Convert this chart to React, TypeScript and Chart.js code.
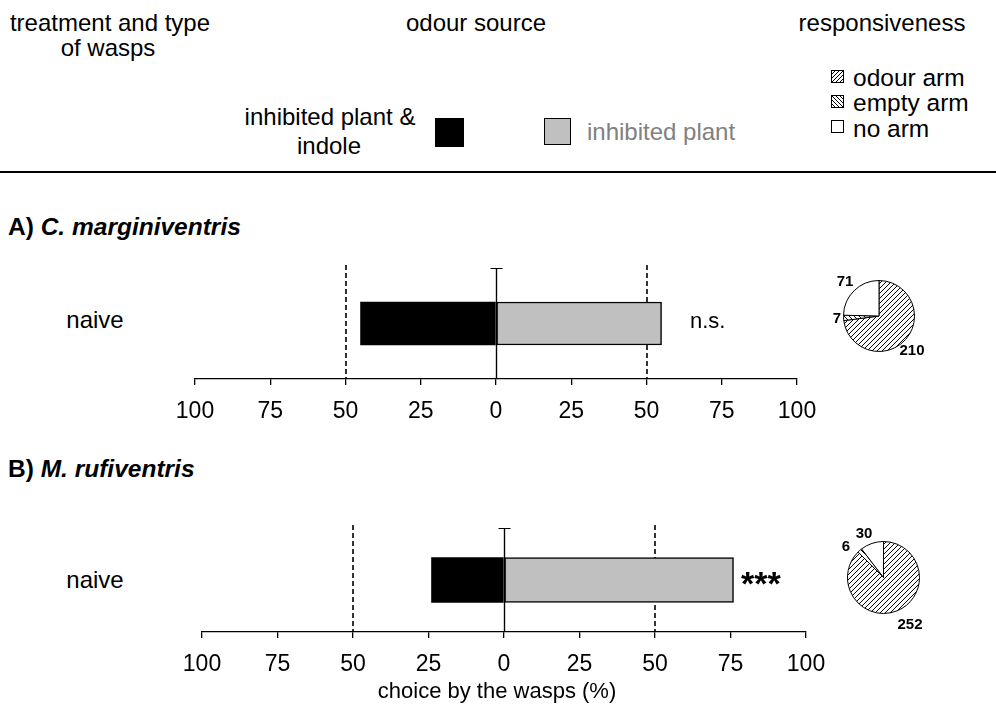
import React, { useEffect, useRef } from 'react';
import { Chart, registerables } from 'chart.js';

Chart.register(...registerables);

// ---------- data ----------
const categories = ['naive'];
const sourceLabels = ['inhibited plant & indole', 'inhibited plant'];
const indoleA = [-45];
const plantA = [55];
const indoleB = [-24];
const plantB = [76];
const sigA = 'n.s.';
const sigB = '***';
const armLabels = ['odour arm', 'empty arm', 'no arm'];
const pieA = [210, 7, 71];
const pieB = [252, 6, 30];
const xMin = -100;
const xMax = 100;
const xStep = 25;
const refLines = [-50, 50];

const FONT = '"Liberation Sans", Arial, Helvetica, sans-serif';

function makeHatch(dir: 'up' | 'down'): CanvasPattern | string {
  const s = 5;
  const c = document.createElement('canvas');
  c.width = s;
  c.height = s;
  const g = c.getContext('2d');
  if (!g) return '#fff';
  g.fillStyle = '#fff';
  g.fillRect(0, 0, s, s);
  g.strokeStyle = '#000';
  g.lineWidth = 1;
  g.beginPath();
  if (dir === 'up') {
    g.moveTo(-1, s + 1); g.lineTo(s + 1, -1);
    g.moveTo(-1, 1); g.lineTo(1, -1);
    g.moveTo(s - 1, s + 1); g.lineTo(s + 1, s - 1);
  } else {
    g.moveTo(-1, -1); g.lineTo(s + 1, s + 1);
    g.moveTo(s - 1, -1); g.lineTo(s + 1, 1);
    g.moveTo(-1, s - 1); g.lineTo(1, s + 1);
  }
  g.stroke();
  const p = g.createPattern(c, 'repeat');
  return p || '#fff';
}

type BarProps = {
  left: number; top: number; width: number; height: number;
  padL: number; padR: number; padT: number; padB: number;
  indole: number[]; plant: number[]; barThickness: number;
};

const AXIS_H = 50;

const refPlugin = {
  id: 'refLines',
  beforeDatasetsDraw(chart: any) {
    const { ctx, chartArea, scales } = chart;
    const x = scales.x;
    ctx.save();
    ctx.strokeStyle = '#000';
    ctx.lineWidth = 1.6;
    ctx.setLineDash([5, 3]);
    refLines.forEach((v) => {
      const px = Math.round(x.getPixelForValue(v));
      ctx.beginPath();
      ctx.moveTo(px, chartArea.top - 3);
      ctx.lineTo(px, chartArea.bottom);
      ctx.stroke();
    });
    ctx.setLineDash([]);
    const zx = Math.round(x.getPixelForValue(0)) + 0.5;
    ctx.lineWidth = 1.2;
    ctx.beginPath();
    ctx.moveTo(zx, chartArea.top);
    ctx.lineTo(zx, chartArea.bottom);
    ctx.moveTo(zx - 6, chartArea.top + 0.5);
    ctx.lineTo(zx + 6, chartArea.top + 0.5);
    ctx.stroke();
    ctx.restore();
  },
  afterDatasetsDraw(chart: any) {
    const { ctx, chartArea, scales } = chart;
    const zx = Math.round(scales.x.getPixelForValue(0)) + 0.5;
    ctx.save();
    ctx.strokeStyle = '#000';
    ctx.lineWidth = 1.2;
    ctx.beginPath();
    ctx.moveTo(zx, chartArea.top);
    ctx.lineTo(zx, chartArea.bottom);
    ctx.stroke();
    ctx.restore();
  },
};

function BarPanel(p: BarProps) {
  const ref = useRef<HTMLCanvasElement>(null);
  useEffect(() => {
    if (!ref.current) return;
    const chart = new Chart(ref.current, {
      type: 'bar',
      data: {
        labels: categories,
        datasets: [
          {
            label: sourceLabels[0],
            data: p.indole,
            backgroundColor: '#000',
            borderWidth: 0,
            barThickness: p.barThickness,
          },
          {
            label: sourceLabels[1],
            data: p.plant,
            backgroundColor: '#c0c0c0',
            borderColor: '#000',
            borderWidth: 1.5,
            borderSkipped: false,
            barThickness: p.barThickness,
          },
        ],
      },
      options: {
        indexAxis: 'y',
        animation: false,
        responsive: false,
        maintainAspectRatio: false,
        events: [],
        layout: { padding: { left: p.padL, right: p.padR, top: p.padT, bottom: p.padB } },
        plugins: { legend: { display: false }, tooltip: { enabled: false }, title: { display: false } },
        scales: {
          x: {
            type: 'linear',
            min: xMin,
            max: xMax,
            stacked: true,
            afterBuildTicks: (axis: any) => {
              const t = [];
              for (let v = xMin; v <= xMax; v += xStep) t.push({ value: v });
              axis.ticks = t;
            },
            afterFit: (axis: any) => {
              axis.height = AXIS_H;
              axis.paddingLeft = 0;
              axis.paddingRight = 0;
            },
            ticks: {
              callback: (v: any) => String(Math.abs(Number(v))),
              color: '#000',
              font: { family: FONT, size: 23 },
              padding: 13,
              maxRotation: 0,
              autoSkip: false,
            },
            grid: {
              drawOnChartArea: false,
              drawTicks: true,
              tickLength: 6,
              color: '#000',
              lineWidth: 1.3,
            },
            border: { display: true, color: '#000', width: 1.3 },
          },
          y: { display: false, stacked: true },
        },
      },
      plugins: [refPlugin],
    } as any);
    return () => chart.destroy();
  }, []);
  return (
    <canvas
      ref={ref}
      width={p.width}
      height={p.height}
      style={{ position: 'absolute', left: p.left, top: p.top, width: p.width, height: p.height }}
    />
  );
}

function PiePanel({ left, top, size, values }: { left: number; top: number; size: number; values: number[] }) {
  const ref = useRef<HTMLCanvasElement>(null);
  useEffect(() => {
    if (!ref.current) return;
    const chart = new Chart(ref.current, {
      type: 'pie',
      data: {
        labels: armLabels,
        datasets: [
          {
            data: values,
            backgroundColor: [makeHatch('up'), makeHatch('down'), '#fff'],
            borderColor: '#000',
            borderWidth: 1,
          },
        ],
      },
      options: {
        animation: false,
        responsive: false,
        maintainAspectRatio: false,
        events: [],
        layout: { padding: 0 },
        plugins: { legend: { display: false }, tooltip: { enabled: false } },
      },
    } as any);
    return () => chart.destroy();
  }, []);
  return (
    <canvas
      ref={ref}
      width={size}
      height={size}
      style={{ position: 'absolute', left, top, width: size, height: size }}
    />
  );
}

function T({ x, y, children, align = 'left', size = 24, bold = false, color = '#000', italic = false }: any) {
  const lh = Math.round(size * 1.2);
  const tx = align === 'center' ? '-50%' : align === 'right' ? '-100%' : '0';
  return (
    <div
      style={{
        position: 'absolute',
        left: x,
        top: y - lh / 2,
        lineHeight: lh + 'px',
        fontSize: size,
        fontFamily: FONT,
        fontWeight: bold ? 'bold' : 'normal',
        fontStyle: italic ? 'italic' : 'normal',
        color,
        whiteSpace: 'nowrap',
        transform: `translateX(${tx})`,
      }}
    >
      {children}
    </div>
  );
}

function LegendBox({ x, y, kind }: { x: number; y: number; kind: number }) {
  const bg =
    kind === 0
      ? 'repeating-linear-gradient(-45deg, #fff 0px, #fff 1.6px, #000 1.6px, #000 2.8px)'
      : kind === 1
      ? 'repeating-linear-gradient(45deg, #fff 0px, #fff 1.6px, #000 1.6px, #000 2.8px)'
      : '#fff';
  return (
    <div
      style={{
        position: 'absolute',
        left: x,
        top: y,
        width: 11,
        height: 11,
        border: '1px solid #000',
        background: bg,
      }}
    />
  );
}

export default function App() {
  return (
    <div style={{ position: 'absolute', left: 0, top: 0, width: 996, height: 724, background: '#fff', overflow: 'hidden' }}>
      {/* header */}
      <T x={110} y={22} align="center">treatment and type</T>
      <T x={108} y={47} align="center">of wasps</T>
      <T x={476} y={22} align="center">odour source</T>
      <T x={882} y={22} align="center">responsiveness</T>

      <T x={330} y={116} align="center">inhibited plant &amp;</T>
      <T x={329} y={145} align="center">indole</T>
      <div style={{ position: 'absolute', left: 435, top: 118, width: 29, height: 29, background: '#000' }} />
      <div style={{ position: 'absolute', left: 544, top: 118, width: 25, height: 25, background: '#c0c0c0', border: '1.5px solid #000' }} />
      <T x={587} y={131} color="#808080">{sourceLabels[1]}</T>

      {armLabels.map((l, i) => (
        <React.Fragment key={l}>
          <LegendBox x={831} y={[70, 95, 120][i]} kind={i} />
          <T x={853} y={[77, 102, 128][i]} size={24.5}>{l}</T>
        </React.Fragment>
      ))}

      <div style={{ position: 'absolute', left: 0, top: 171, width: 996, height: 2, background: '#000' }} />

      {/* panel A */}
      <T x={8} y={226} bold size={24.5}>
        A) <i>C. marginiventris</i>
      </T>
      <T x={95} y={319} align="center" size={24}>{categories[0]}</T>
      <BarPanel
        left={165} top={258} width={662} height={171}
        padL={30} padR={30} padT={10} padB={0}
        indole={indoleA} plant={plantA} barThickness={43}
      />
      <T x={690} y={321} size={22}>{sigA}</T>
      <PiePanel left={843} top={280} size={72} values={pieA} />
      <T x={845} y={281} size={15} bold align="center">{pieA[2]}</T>
      <T x={837} y={318} size={15} bold align="center">{pieA[1]}</T>
      <T x={912} y={350} size={15} bold align="center">{pieA[0]}</T>

      {/* panel B */}
      <T x={8} y={468} bold size={24.5}>
        B) <i>M. rufiventris</i>
      </T>
      <T x={95} y={579} align="center" size={24}>{categories[0]}</T>
      <BarPanel
        left={172} top={518} width={664} height={164}
        padL={30} padR={30} padT={10} padB={0}
        indole={indoleB} plant={plantB} barThickness={45}
      />
      <T x={741} y={583} size={34} bold>{sigB}</T>
      <PiePanel left={847} top={541} size={73} values={pieB} />
      <T x={864} y={533} size={15} bold align="center">{pieB[2]}</T>
      <T x={846} y={546} size={15} bold align="center">{pieB[1]}</T>
      <T x={910} y={624} size={15} bold align="center">{pieB[0]}</T>

      <T x={497} y={691} align="center" size={22}>choice by the wasps (%)</T>
    </div>
  );
}
